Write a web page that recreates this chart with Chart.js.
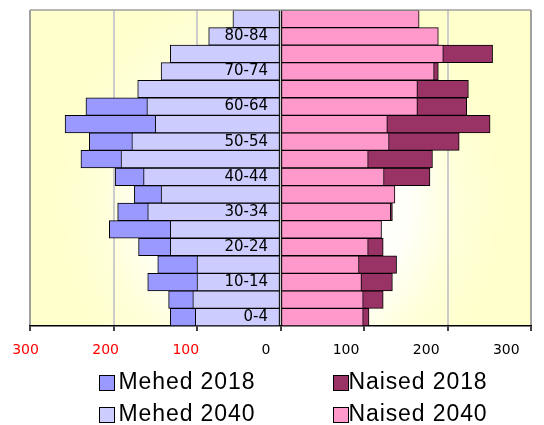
<!DOCTYPE html>
<html><head><meta charset="utf-8">
<script src="https://cdn.jsdelivr.net/npm/chart.js@4"></script>
<style>
html,body{margin:0;padding:0;background:#fff;}
#wrap{position:relative;width:544px;height:425px;overflow:hidden;}
#wrap canvas{position:absolute;left:0;top:0;}
.lb{position:absolute;width:16px;height:16px;box-sizing:border-box;border:1.5px solid #000;}
.lt{position:absolute;font-family:"Liberation Sans",Arial,sans-serif;font-size:23px;line-height:23px;letter-spacing:0.9px;color:#000;white-space:nowrap;}
</style></head><body>
<div id="wrap"><canvas id="c" width="544" height="425"></canvas><div id="legend"></div></div>
<script>
// ---- data ----
const ageGroups = ['0-4','5-9','10-14','15-19','20-24','25-29','30-34','35-39','40-44','45-49','50-54','55-59','60-64','65-69','70-74','75-79','80-84','85+'];
const mehed2018  = [132,134,159,147,170,205,195,175,198,239,229,258,233,150,125,100,65,40];
const mehed2040  = [102,105,100,100,132,132,159,143,164,191,178,150,160,171,143,132,86,57];
const naised2018 = [106,123,134,139,123,112,134,128,179,182,214,251,223,225,189,254,150,110];
const naised2040 = [99,99,97,94,105,121,132,137,124,105,130,128,164,164,184,195,189,166];
const xTickValues = [-300,-200,-100,0,100,200,300];
const seriesNames = ['Mehed 2018','Naised 2018','Mehed 2040','Naised 2040'];
const seriesColors = ['#9999ff','#993366','#ccccff','#ff99cc'];

// ---- legend (HTML) ----
const legendPos = [[99,375],[333,375],[99,407],[333,407]];
const legendTextX = [118.5,348.5,118.5,348.5];
const legendEl = document.getElementById('legend');
seriesNames.forEach((name,i)=>{
  const b=document.createElement('div'); b.className='lb';
  b.style.left=legendPos[i][0]+'px'; b.style.top=legendPos[i][1]+'px'; b.style.background=seriesColors[i];
  const t=document.createElement('div'); t.className='lt'; t.textContent=name;
  t.style.left=legendTextX[i]+'px'; t.style.top=(legendPos[i][1]-5)+'px';
  legendEl.appendChild(b); legendEl.appendChild(t);
});

// ---- background plugin ----
const bgPlugin = {
  id:'bg',
  beforeDraw(chart){
    const {ctx, chartArea:a} = chart;
    const cx=(a.left+a.right)/2, cy=a.top+0.6*(a.bottom-a.top);
    const g=ctx.createRadialGradient(cx,cy,0,cx,cy,300);
    g.addColorStop(0,'#ffffff'); g.addColorStop(0.42,'#fffffa');
    g.addColorStop(0.6,'#ffffd8'); g.addColorStop(0.75,'#ffffcc'); g.addColorStop(1,'#ffffcc');
    ctx.save(); ctx.fillStyle=g; ctx.fillRect(a.left,a.top,a.right-a.left,a.bottom-a.top); ctx.restore();
  },
  afterDatasetsDraw(chart){
    const {ctx, chartArea:a} = chart;
    ctx.save(); ctx.strokeStyle='#a0a0a0'; ctx.lineWidth=1.5;
    ctx.beginPath(); ctx.moveTo(a.left,a.top); ctx.lineTo(a.right,a.top); ctx.stroke(); ctx.restore();
  }
};

const neg = arr => arr.map(v => -v);
new Chart(document.getElementById('c'), {
  type:'bar',
  data:{
    labels: ageGroups,
    datasets:[
      {label:seriesNames[0], data:neg(mehed2018), backgroundColor:seriesColors[0], order:1},
      {label:seriesNames[1], data:naised2018, backgroundColor:seriesColors[1], order:1},
      {label:seriesNames[2], data:neg(mehed2040), backgroundColor:seriesColors[2], order:0},
      {label:seriesNames[3], data:naised2040, backgroundColor:seriesColors[3], order:0}
    ]
  },
  options:{
    indexAxis:'y', responsive:false, animation:false,
    datasets:{bar:{grouped:false, barPercentage:1, categoryPercentage:1, borderColor:'#000', borderWidth:1, borderSkipped:false}},
    layout:{padding:{left:30, right:13, top:10, bottom:56}},
    plugins:{legend:{display:false}, tooltip:{enabled:false}},
    scales:{
      x:{type:'linear', min:-300, max:300, position:'bottom', weight:0,
         ticks:{display:false, stepSize:100},
         grid:{color:c => (c.tick && Math.abs(c.tick.value)===300) ? '#a0a0a0' : '#cccccc', lineWidth:2,
               tickColor:'#000', tickLength:5, tickWidth:1.5},
         border:{color:'#000', width:1.5}},
      xl:{type:'linear', position:'bottom', weight:1, min:-294.4, max:330.8,
         afterBuildTicks: s => { s.ticks = xTickValues.map(v => ({value:v})); },
         grid:{display:false, drawTicks:false}, border:{display:false},
         ticks:{padding:10.6, autoSkip:false, maxRotation:0,
                font:{family:'DejaVu Sans', size:14},
                color:c => (c.tick && c.tick.value < 0) ? '#ff0000' : '#000000',
                callback:v => String(Math.abs(v))}},
      y:{type:'category', reverse:true, position:{x:-15}, 
         grid:{display:false, drawTicks:false}, border:{display:false},
         ticks:{z:1, autoSkip:false, padding:0, font:{family:'DejaVu Sans', size:15}, color:'#000',
                callback:(v) => v % 2 === 0 ? ageGroups[v] : ''}}
    }
  },
  plugins:[bgPlugin]
});
</script>
</body></html>
